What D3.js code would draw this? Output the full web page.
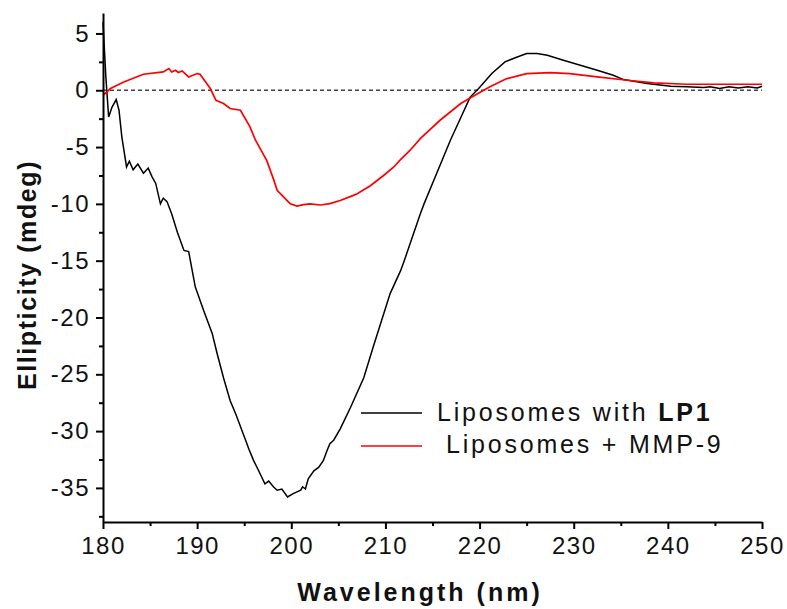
<!DOCTYPE html>
<html>
<head>
<meta charset="utf-8">
<script src="https://cdn.jsdelivr.net/npm/d3@7"></script>
<style>
  body { margin: 0; background: #fff; }
  svg { font-family: "Liberation Sans", Arial, sans-serif; }
  .tick text { font-size: 24px; letter-spacing: 1.5px; fill: #111; }
  .axis path, .axis line { stroke: #000; stroke-width: 2; }
</style>
</head>
<body>
<svg width="787" height="609"></svg>
<script>
// Liposomes with LP1 (black)
var lp1Wave = [180.0, 180.3, 180.6, 180.95, 181.4, 181.7, 182.0, 182.5, 182.8, 183.2, 183.7, 184.3, 184.8, 185.2, 185.6,
  186.1, 186.4, 186.8, 187.3, 187.9, 188.6, 189.1, 189.8, 190.7, 191.6, 192.1, 192.8, 193.5, 194.1, 195.1,
  195.5, 196.0, 196.6, 197.2, 197.6, 198.1, 198.5, 199.0, 199.6, 200.2, 201.0, 201.2, 201.5, 201.8, 202.4,
  202.9, 203.4, 203.8, 204.1, 204.5, 205.2, 206.3, 207.7, 208.7, 210.5, 211.6, 212.0, 213.7, 214.1, 216.0,
  216.9, 219.0, 219.9, 221.3, 222.7, 224.0, 225.0, 226.1, 227.2, 228.9, 230.7, 232.5, 234.2, 235.3, 237.8,
  240.3, 242.0, 243.8, 244.5, 245.5, 246.5, 247.5, 248.5, 249.5, 250.0];
var lp1Value = [6.0, 1.2, -2.35, -1.5, -0.82, -1.76, -4.1, -6.75, -6.25, -7.0, -6.5, -7.3, -6.85, -7.6, -8.2,
  -10.0, -9.5, -9.8, -10.9, -12.5, -14.1, -14.2, -17.3, -19.4, -21.4, -23.1, -25.3, -27.3, -28.5, -30.7,
  -31.6, -32.6, -33.6, -34.65, -34.4, -34.9, -35.2, -35.1, -35.8, -35.5, -35.2, -34.9, -35.1, -34.2, -33.5,
  -33.2, -32.6, -31.7, -31.1, -30.8, -29.8, -27.9, -25.3, -22.6, -17.9, -15.9, -15.0, -10.9, -10.0, -6.2,
  -4.4, -0.6, 0.15, 1.47, 2.5, 2.93, 3.23, 3.23, 3.08, 2.64, 2.2, 1.76, 1.32, 0.94, 0.59,
  0.35, 0.3, 0.24, 0.3, 0.15, 0.3, 0.2, 0.3, 0.2, 0.35];

// Liposomes + MMP-9 (red)
var mmpWave = [180.0, 180.8, 182.2, 184.3, 186.4, 187.0, 187.3, 187.7, 188.0, 188.4, 189.1, 190.0, 190.3, 190.9,
  191.4, 192.0, 192.8, 193.5, 194.6, 195.6, 196.2, 197.4, 198.1, 198.5, 199.2, 199.9, 200.6, 201.3, 202.0,
  203.1, 204.1, 205.2, 206.6, 207.0, 208.4, 209.8, 210.9, 211.5, 212.6, 213.7, 215.8, 218.0, 219.5, 221.1,
  222.9, 225.0, 227.5, 229.6, 232.5, 235.7, 238.5, 242.0, 245.6, 250.0];
var mmpValue = [-0.44, 0.15, 0.73, 1.41, 1.61, 1.91, 1.61, 1.76, 1.56, 1.7, 1.17, 1.47, 1.41, 0.73,
  0.15, -0.88, -1.17, -1.61, -1.76, -3.2, -4.4, -6.2, -7.8, -8.8, -9.4, -10.0, -10.2, -10.07, -10.0,
  -10.1, -9.98, -9.7, -9.25, -9.1, -8.4, -7.5, -6.75, -6.2, -5.3, -4.26, -2.64, -1.17, -0.44, 0.3,
  1.03, 1.47, 1.56, 1.47, 1.17, 0.88, 0.65, 0.53, 0.53, 0.53];

var xTicks = [180, 190, 200, 210, 220, 230, 240, 250];
var xMinor = [185, 195, 205, 215, 225, 235, 245];
var yTicks = [-35, -30, -25, -20, -15, -10, -5, 0, 5];
var yMinor = [-37.5, -32.5, -27.5, -22.5, -17.5, -12.5, -7.5, -2.5, 2.5];
var seriesNames = ["Liposomes with ", "Liposomes + MMP-9"];

var svg = d3.select('svg');
var x = d3.scaleLinear().domain([180, 250]).range([103, 762]);
var y = d3.scaleLinear().domain([-38, 6.8]).range([522, 13]);

// zero line
svg.append('line')
  .attr('x1', x(180)).attr('x2', x(250))
  .attr('y1', y(0)).attr('y2', y(0))
  .attr('stroke', '#444')
  .attr('stroke-width', 1.3)
  .attr('stroke-dasharray', '4,3');

var line = d3.line()
  .x(d => x(d[0]))
  .y(d => y(d[1]));

svg.append('path')
  .datum(lp1Wave.map((w, i) => [w, lp1Value[i]]))
  .attr('fill', 'none')
  .attr('stroke', '#000')
  .attr('stroke-width', 1.5)
  .attr('d', line);

svg.append('path')
  .datum(mmpWave.map((w, i) => [w, mmpValue[i]]))
  .attr('fill', 'none')
  .attr('stroke', '#ff0000')
  .attr('stroke-width', 1.7)
  .attr('d', line);

// axes
svg.append('g')
  .attr('class', 'axis')
  .attr('transform', 'translate(0,' + y(-38) + ')')
  .call(d3.axisBottom(x).tickValues(xMinor).tickSize(4).tickFormat(''))
  .select('.domain').remove();
svg.append('g')
  .attr('class', 'axis')
  .attr('transform', 'translate(0,' + y(-38) + ')')
  .call(d3.axisBottom(x).tickValues(xTicks).tickSize(7).tickSizeOuter(0).tickPadding(8).tickFormat(d => d));

svg.append('g')
  .attr('class', 'axis')
  .attr('transform', 'translate(' + x(180) + ',0)')
  .call(d3.axisLeft(y).tickValues(yMinor).tickSize(4).tickFormat(''))
  .select('.domain').remove();
svg.append('g')
  .attr('class', 'axis')
  .attr('transform', 'translate(' + x(180) + ',0)')
  .call(d3.axisLeft(y).tickValues(yTicks).tickSize(7).tickSizeOuter(0).tickPadding(6).tickFormat(d => String(d)));

// axis titles
svg.append('text')
  .attr('x', 420).attr('y', 601)
  .attr('text-anchor', 'middle')
  .attr('font-size', 25).attr('font-weight', 'bold')
  .attr('letter-spacing', 3)
  .attr('fill', '#111')
  .text('Wavelength (nm)');

svg.append('text')
  .attr('transform', 'translate(36,275) rotate(-90)')
  .attr('text-anchor', 'middle')
  .attr('font-size', 25).attr('font-weight', 'bold')
  .attr('letter-spacing', 1.6)
  .attr('fill', '#111')
  .text('Ellipticity (mdeg)');

// legend
var legendY = [413, 446];
var legendColor = ['#000', '#ff0000'];
var legend = svg.append('g');
legend.selectAll('line')
  .data(legendY)
  .enter()
  .append('line')
    .attr('x1', 361).attr('x2', 422)
    .attr('y1', d => d).attr('y2', d => d)
    .attr('stroke', (d, i) => legendColor[i])
    .attr('stroke-width', 1.5);

var t1 = legend.append('text')
  .attr('x', 437).attr('y', legendY[0] + 8)
  .attr('font-size', 25).attr('letter-spacing', 2.8).attr('fill', '#111');
t1.append('tspan').text(seriesNames[0]);
t1.append('tspan').attr('font-weight', 'bold').text('LP1');

legend.append('text')
  .attr('x', 446).attr('y', legendY[1] + 7)
  .attr('font-size', 25).attr('letter-spacing', 2.8).attr('fill', '#111')
  .text(seriesNames[1]);
</script>
</body>
</html>
